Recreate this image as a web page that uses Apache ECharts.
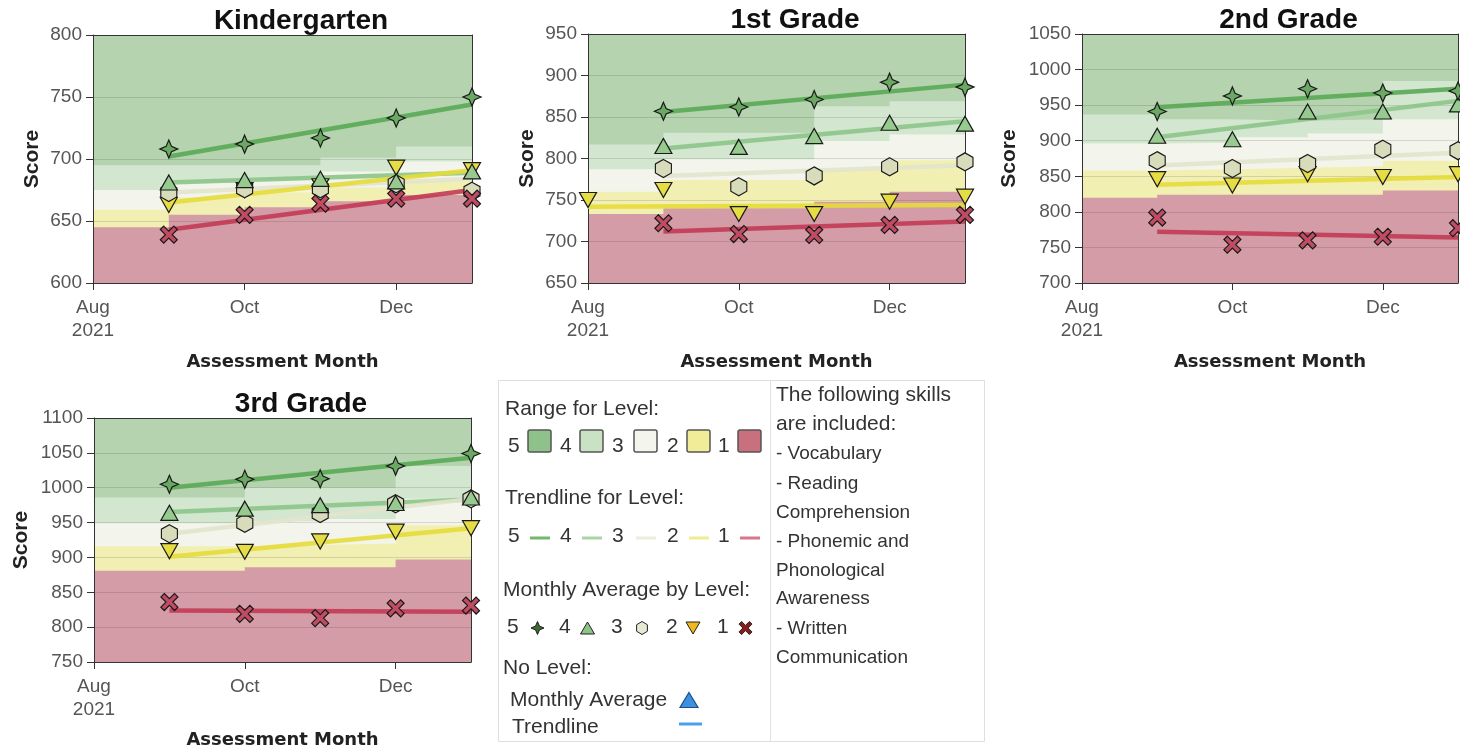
<!DOCTYPE html>
<html lang="en">
<head>
<meta charset="UTF-8">
<title>Score by Level</title>
<script src="https://cdn.jsdelivr.net/npm/echarts@6/dist/echarts.min.js"></script>
<style>
  body { margin: 0; background: #fff; overflow: hidden; }
</style>
</head>
<body>
<div id="main" style="width: 1460px; height: 750px;"></div>
<script>
var months = ['Aug\n2021', 'Sep', 'Oct', 'Nov', 'Dec', 'Jan'];
var grades = ['Kindergarten', '1st Grade', '2nd Grade', '3rd Grade'];
var scoreMin = [600, 650, 700, 750];
var scoreMax = [800, 950, 1050, 1100];
var levels = ['5', '4', '3', '2', '1'];

// top of the range for level 1..4, one value per month Aug..Dec (Dec holds to Jan)
var kRange = [
    [645, 655, 661, 666, 671],
    [659, 669, 673, 677, 682],
    [675, 681, 683, 690, 698],
    [695, 695, 695, 701, 710]
];
var g1Range = [
    [733, 740, 740, 748, 760],
    [760, 774, 774, 786, 798],
    [787, 799, 799, 821, 829],
    [817, 831, 831, 863, 869]
];
var g2Range = [
    [820, 824, 824, 824, 830],
    [858, 860, 862, 864, 872],
    [896, 897, 905, 910, 930],
    [937, 930, 928, 930, 984]
];
var g3Range = [
    [881, 881, 886, 886, 897],
    [916, 916, 918, 920, 946],
    [949, 949, 952, 955, 984],
    [986, 986, 1000, 1000, 1031]
];

// monthly average for level 5..1, Aug..Jan
var kAvg = [
    [null, 708, 712, 717, 733, 750],
    [null, 681, 683, 684, 682, 690],
    [null, 673, 676, 676, 680, 674],
    [null, 663, 675, 678, 693, 691],
    [null, 639, 655, 664, 668, 668]
];
var g1Avg = [
    [null, 857, 862, 871, 892, 886],
    [null, 815, 814, 827, 843, 842],
    [null, 788, 766, 779, 790, 796],
    [750, 762, 733, 733, 748, 754],
    [null, 722, 709, 708, 720, 732]
];
var g2Avg = [
    [null, 941, 963, 973, 967, 970],
    [null, 907, 902, 941, 941, 951],
    [null, 872, 861, 868, 888, 886],
    [null, 846, 837, 853, 849, 853],
    [null, 792, 754, 760, 765, 777]
];
var g3Avg = [
    [null, 1005, 1012, 1013, 1031, 1049],
    [null, 964, 970, 975, 978, 986],
    [null, 934, 949, 963, 977, 984],
    [null, 909, 908, 923, 937, 942],
    [null, 836, 819, 813, 827, 831]
];

// trendline for level 5..1: [first month index, score there, score in Jan]
var kTrend = [[1, 702, 744], [1, 681, 689], [1, 673, 684], [1, 665, 691], [1, 643, 675]];
var g1Trend = [[1, 856, 889], [1, 812, 845], [1, 779, 792], [0, 742, 744], [1, 712, 724]];
var g2Trend = [[1, 947, 973], [1, 905, 956], [1, 865, 883], [1, 838, 849], [1, 772, 764]];
var g3Trend = [[1, 1000, 1043], [1, 965, 983], [1, 934, 984], [1, 901, 942], [1, 824, 822]];

var skillsText = ['The following skills', 'are included:', '- Vocabulary', '- Reading', 'Comprehension',
    '- Phonemic and', 'Phonological', 'Awareness', '- Written', 'Communication'];

var allRange = [kRange, g1Range, g2Range, g3Range];
var allAvg = [kAvg, g1Avg, g2Avg, g3Avg];
var allTrend = [kTrend, g1Trend, g2Trend, g3Trend];

// layout of the four panels
var boxes = [
    {left: 93, top: 35, width: 379, height: 248, nameGap: 50},
    {left: 588, top: 34, width: 377, height: 249, nameGap: 50},
    {left: 1082, top: 34, width: 376, height: 249, nameGap: 62},
    {left: 94, top: 418, width: 377, height: 246, nameGap: 62}
];

var rangeColors = ['#d49ca6', '#f2efb2', '#f3f5ec', '#d3e6cf', '#b4d3ae']; // level 1..5
var trendColors = ['#5aa955', '#8cc589', '#e2e4cc', '#e6dc3a', '#c23a55']; // level 5..1
var markerFill = ['#6aa863', '#96ca8f', '#d8dcbb', '#e6dc44', '#c04c63'];  // level 5..1

// shapes in a 100x100 box
var shapeStar = [[50, 0], [65, 35], [100, 50], [65, 65], [50, 100], [35, 65], [0, 50], [35, 35]];
var shapeUp = [[50, 0], [100, 100], [0, 100]];
var shapeHex = [[50, 0], [95, 25], [95, 75], [50, 100], [5, 75], [5, 25]];
var shapeDown = [[0, 0], [100, 0], [50, 100]];
var shapeCross = [[20, 0], [50, 30], [80, 0], [100, 20], [70, 50], [100, 80], [80, 100], [50, 70],
    [20, 100], [0, 80], [30, 50], [0, 20]];
var markerShapes = [shapeStar, shapeUp, shapeHex, shapeDown, shapeCross];
var markerSizes = [[18, 18], [17, 15], [16, 18], [17, 15], [17, 17]];
var drawOrder = [3, 2, 1, 0, 4];

function toPath(pts) {
    return 'path://M' + pts.map(function (p) { return p.join(','); }).join(' L') + ' Z';
}
function place(pts, cx, cy, w, h) {
    return pts.map(function (p) { return [cx + (p[0] - 50) / 100 * w, cy + (p[1] - 50) / 100 * h]; });
}

var axisDark = '#333';
var option = {
    animation: false,
    textStyle: {fontFamily: '"Liberation Sans", Arial, sans-serif'},
    title: [], grid: [], xAxis: [], yAxis: [], series: [], graphic: []
};

grades.forEach(function (name, g) {
    var b = boxes[g];
    var xi = 2 * g;
    option.grid.push({
        left: b.left, top: b.top, width: b.width, height: b.height,
        show: true, backgroundColor: rangeColors[4], borderWidth: 0
    });
    option.title.push({
        text: name, left: b.left + b.width / 2 + 13.5, top: b.top - 33, textAlign: 'center',
        textStyle: {fontSize: 28, fontWeight: 'bold', color: '#111', fontFamily: '"Liberation Sans", Arial'}
    });
    option.xAxis.push({
        type: 'category', gridIndex: g, data: months, boundaryGap: false, z: 2,
        axisLine: {onZero: false, lineStyle: {color: axisDark}},
        axisTick: {interval: 1, length: 7, lineStyle: {color: axisDark}},
        axisLabel: {interval: 1, color: '#555', fontSize: 19, lineHeight: 23, margin: 13},
        splitLine: {show: false},
        name: 'Assessment Month', nameLocation: 'middle', nameGap: g === 3 ? 69 : 70,
        nameTextStyle: {fontFamily: '"DejaVu Sans"', fontWeight: 'bold', fontSize: 18, color: '#222'}
    });
    option.xAxis.push({
        type: 'category', gridIndex: g, data: months, boundaryGap: false, position: 'top', z: 2,
        axisLine: {onZero: false, lineStyle: {color: axisDark}},
        axisTick: {show: false}, axisLabel: {show: false}, splitLine: {show: false}
    });
    option.yAxis.push({
        type: 'value', gridIndex: g, min: scoreMin[g], max: scoreMax[g], interval: 50, z: 2,
        axisLine: {show: true, lineStyle: {color: axisDark}},
        axisTick: {show: true, length: 7, lineStyle: {color: axisDark}},
        axisLabel: {color: '#555', fontSize: 19, margin: 11, formatter: function (v) { return String(v); }},
        splitLine: {lineStyle: {color: 'rgba(0,0,0,0.12)'}},
        name: 'Score', nameLocation: 'middle', nameGap: b.nameGap,
        nameTextStyle: {fontWeight: 'bold', fontSize: 21, color: '#222'}
    });
    option.yAxis.push({
        type: 'value', gridIndex: g, min: scoreMin[g], max: scoreMax[g], position: 'right', z: 2,
        axisLine: {show: true, lineStyle: {color: axisDark}},
        axisTick: {show: false}, axisLabel: {show: false}, splitLine: {show: false}
    });

    // level ranges, painted from level 4 down to level 1
    for (var lv = 3; lv >= 0; lv--) {
        var r = allRange[g][lv];
        option.series.push({
            type: 'line', xAxisIndex: xi, yAxisIndex: xi, step: 'end', symbol: 'none',
            silent: true, z: 1, lineStyle: {opacity: 0},
            areaStyle: {color: rangeColors[lv], opacity: 1, origin: 'start'},
            data: r.concat([r[r.length - 1]])
        });
    }
    // trendlines
    allTrend[g].forEach(function (t, i) {
        option.series.push({
            type: 'line', xAxisIndex: xi, yAxisIndex: xi, symbol: 'none', silent: true, z: 3,
            lineStyle: {color: trendColors[i], width: 4.5, opacity: 0.9},
            data: [[t[0], t[1]], [months.length - 1, t[2]]]
        });
    });
    // monthly averages
    drawOrder.forEach(function (i) {
        var pts = [];
        allAvg[g][i].forEach(function (v, m) { if (v !== null) pts.push([m, v]); });
        option.series.push({
            type: 'scatter', xAxisIndex: xi, yAxisIndex: xi, z: 4,
            symbol: toPath(markerShapes[i]), symbolSize: markerSizes[i],
            itemStyle: {color: markerFill[i], borderColor: '#1a1a1a', borderWidth: 1.2, opacity: 1},
            data: pts
        });
    });
});

// ---------- legend panel ----------
var lgFont = '"Liberation Sans", Arial, sans-serif';
function txt(x, y, s, size) {
    return {type: 'text', x: x, y: y, silent: true,
        style: {text: s, font: (size || 21) + 'px ' + lgFont, fill: '#333', verticalAlign: 'middle'}};
}
var lgRangeFill = ['#8fc28a', '#c9e2c4', '#f4f5ec', '#f0ec98', '#c9707f'];
var lgTrend = ['#72b96d', '#a9d5a4', '#ececdf', '#f0ec90', '#d9768a'];
var lgMarkFill = ['#3f6a33', '#8cc488', '#e6e9d4', '#f0b820', '#8b1c1c'];
var digitX = [508, 560, 612, 667, 718];
var swatchX = [528, 580, 634, 687, 738];
var glyphX = [537.5, 587.5, 642, 693, 745.5];
var glyphSize = [[13, 13], [14, 12], [12, 13], [14, 12], [13, 13]];

var lg = option.graphic;
lg.push({type: 'rect', silent: true, shape: {x: 498.5, y: 380.5, width: 486, height: 361},
    style: {fill: '#fff', stroke: '#dedede', lineWidth: 1}});
lg.push({type: 'line', silent: true, shape: {x1: 770.5, y1: 381, x2: 770.5, y2: 741},
    style: {stroke: '#e2e2e2', lineWidth: 1}});
lg.push(txt(505, 409, 'Range for Level:'));
lg.push(txt(505, 498, 'Trendline for Level:'));
lg.push(txt(503, 590, 'Monthly Average by Level:'));
lg.push(txt(503, 668, 'No Level:'));
levels.forEach(function (d, i) {
    lg.push(txt(digitX[i], 446, d));
    lg.push({type: 'rect', silent: true, shape: {x: swatchX[i], y: 430, width: 23, height: 22, r: 2},
        style: {fill: lgRangeFill[i], stroke: '#555', lineWidth: 1.5}});
    lg.push(txt(digitX[i], 536, d));
    lg.push({type: 'line', silent: true, shape: {x1: swatchX[i] + 2, y1: 538, x2: swatchX[i] + 22, y2: 538},
        style: {stroke: lgTrend[i], lineWidth: 3}});
    lg.push(txt(digitX[i] - 1, 627, d));
    lg.push({type: 'polygon', silent: true,
        shape: {points: place(markerShapes[i], glyphX[i], 628, glyphSize[i][0], glyphSize[i][1])},
        style: {fill: lgMarkFill[i], stroke: '#222', lineWidth: 1}});
});
lg.push(txt(510, 700, 'Monthly Average'));
lg.push({type: 'polygon', silent: true, shape: {points: place(shapeUp, 689, 700, 18, 15)},
    style: {fill: '#3d8fe0', stroke: '#1d4f8a', lineWidth: 1.2}});
lg.push(txt(512, 727, 'Trendline'));
lg.push({type: 'line', silent: true, shape: {x1: 679, y1: 724, x2: 702, y2: 724},
    style: {stroke: '#4aa0f0', lineWidth: 3}});
var skillY = [395, 424, 454, 484, 513, 542, 571, 599, 629, 658];
skillsText.forEach(function (s, i) {
    lg.push(txt(776, skillY[i], s, i < 2 ? 21 : 19));
});

var chart = echarts.init(document.getElementById('main'));
chart.setOption(option);
</script>
</body>
</html>
